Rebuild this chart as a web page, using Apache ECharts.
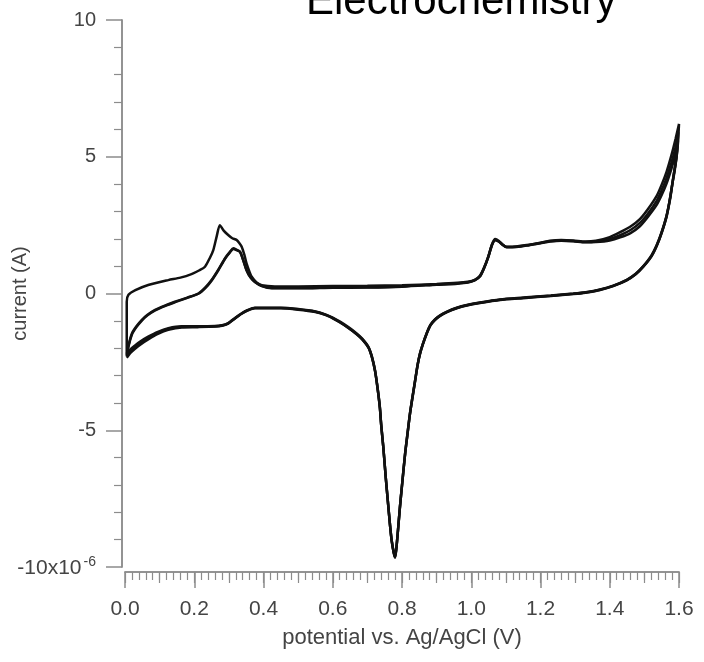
<!DOCTYPE html>
<html>
<head>
<meta charset="utf-8">
<script src="https://cdn.jsdelivr.net/npm/echarts@6/dist/echarts.min.js"></script>
<style>
html,body{margin:0;padding:0;background:#fff;}
#chart{width:704px;height:662px;}
</style>
</head>
<body>
<div id="chart"></div>
<script>
// Potential (V) vs current (in units of 1e-6 A).
const xTickLabels = ['0.0','0.2','0.4','0.6','0.8','1.0','1.2','1.4','1.6'];
const yTickLabels = ['-10','-5','0','5','10'];

const cycle1Anodic = [[0.005,-2.2],[0.005,-0.3],[0.01,-0.05],[0.03,0.12],[0.067,0.31],[0.125,0.49],[0.16,0.58],[0.192,0.71],[0.215,0.85],[0.231,0.98],[0.245,1.3],[0.255,1.59],[0.265,2.1],[0.274,2.5],[0.285,2.3],[0.298,2.14],[0.31,2.02],[0.322,1.96],[0.33,1.85],[0.337,1.71],[0.345,1.4],[0.351,1.1],[0.36,0.78],[0.366,0.61],[0.38,0.4],[0.395,0.3],[0.433,0.26],[0.5,0.26],[0.6,0.27],[0.7,0.28],[0.8,0.3],[0.9,0.35],[0.96,0.39],[0.99,0.43],[1.01,0.5],[1.025,0.65],[1.037,0.95],[1.049,1.35],[1.06,1.8],[1.069,1.99],[1.08,1.92],[1.09,1.8],[1.102,1.71],[1.13,1.72],[1.16,1.77],[1.2,1.86],[1.227,1.93],[1.26,1.96],[1.295,1.94],[1.33,1.9],[1.36,1.93],[1.4,2.06],[1.43,2.24],[1.46,2.45],[1.487,2.72],[1.51,3.08],[1.536,3.58],[1.55,3.98],[1.564,4.45],[1.578,5.05],[1.59,5.65],[1.6,6.2]];

const cycle1Cathodic = [[1.6,6.2],[1.597,5.5],[1.592,4.9],[1.584,4.3],[1.575,3.55],[1.564,2.85],[1.55,2.25],[1.536,1.78],[1.52,1.38],[1.497,1.0],[1.475,0.72],[1.449,0.5],[1.41,0.29],[1.372,0.15],[1.33,0.05],[1.295,0.0],[1.23,-0.07],[1.15,-0.15],[1.083,-0.22],[1.025,-0.33],[0.987,-0.42],[0.958,-0.52],[0.93,-0.66],[0.91,-0.8],[0.895,-0.95],[0.882,-1.15],[0.871,-1.46],[0.86,-1.85],[0.852,-2.19],[0.845,-2.6],[0.838,-3.16],[0.83,-3.8],[0.823,-4.38],[0.816,-5.1],[0.809,-5.84],[0.8,-7.0],[0.794,-7.8],[0.788,-8.7],[0.784,-9.26],[0.78,-9.62],[0.776,-9.45],[0.77,-9.0],[0.765,-8.4],[0.76,-7.7],[0.753,-6.7],[0.746,-5.6],[0.74,-4.8],[0.736,-4.14],[0.729,-3.4],[0.722,-2.8],[0.713,-2.3],[0.703,-1.95],[0.685,-1.65],[0.669,-1.46],[0.645,-1.23],[0.621,-1.03],[0.6,-0.88],[0.582,-0.78],[0.55,-0.66],[0.5,-0.57],[0.45,-0.52],[0.4,-0.52],[0.375,-0.52],[0.355,-0.6],[0.337,-0.72],[0.315,-0.92],[0.298,-1.08],[0.28,-1.16],[0.26,-1.19],[0.21,-1.2],[0.164,-1.2],[0.125,-1.27],[0.095,-1.4],[0.067,-1.58],[0.045,-1.75],[0.029,-1.9],[0.015,-2.05],[0.005,-2.25]];

const cycle2Anodic = [[0.005,-2.25],[0.01,-1.9],[0.02,-1.46],[0.033,-1.2],[0.048,-0.97],[0.065,-0.78],[0.087,-0.6],[0.115,-0.44],[0.144,-0.3],[0.18,-0.15],[0.212,0.0],[0.232,0.22],[0.25,0.49],[0.27,0.88],[0.289,1.29],[0.303,1.52],[0.313,1.65],[0.322,1.6],[0.332,1.53],[0.342,1.2],[0.351,0.86],[0.362,0.6],[0.375,0.43],[0.395,0.28],[0.424,0.2],[0.5,0.2],[0.6,0.22],[0.7,0.23],[0.8,0.26],[0.9,0.33],[0.96,0.37],[0.99,0.41],[1.01,0.49],[1.025,0.63],[1.037,0.93],[1.049,1.33],[1.06,1.78],[1.069,1.96],[1.08,1.9],[1.09,1.79],[1.102,1.7],[1.13,1.71],[1.16,1.76],[1.2,1.85],[1.227,1.91],[1.26,1.94],[1.295,1.92],[1.33,1.88],[1.36,1.9],[1.4,1.99],[1.43,2.13],[1.46,2.32],[1.487,2.58],[1.51,2.92],[1.536,3.4],[1.55,3.78],[1.564,4.22],[1.578,4.78],[1.59,5.35],[1.598,5.9]];

const cycle2Cathodic = [[1.598,5.9],[1.594,5.2],[1.588,4.6],[1.582,4.1],[1.575,3.5],[1.564,2.82],[1.55,2.23],[1.536,1.76],[1.52,1.36],[1.497,0.99],[1.475,0.71],[1.449,0.49],[1.41,0.28],[1.372,0.14],[1.33,0.04],[1.295,-0.01],[1.23,-0.08],[1.15,-0.16],[1.083,-0.23],[1.025,-0.34],[0.987,-0.43],[0.958,-0.53],[0.93,-0.67],[0.91,-0.81],[0.895,-0.96],[0.882,-1.16],[0.871,-1.47],[0.86,-1.86],[0.852,-2.2],[0.845,-2.62],[0.838,-3.18],[0.83,-3.82],[0.823,-4.4],[0.816,-5.12],[0.809,-5.86],[0.8,-7.02],[0.794,-7.82],[0.788,-8.72],[0.784,-9.28],[0.78,-9.64],[0.776,-9.47],[0.77,-9.02],[0.765,-8.42],[0.76,-7.72],[0.753,-6.72],[0.746,-5.62],[0.74,-4.82],[0.736,-4.16],[0.729,-3.42],[0.722,-2.82],[0.713,-2.32],[0.703,-1.97],[0.685,-1.67],[0.669,-1.48],[0.645,-1.25],[0.621,-1.05],[0.6,-0.9],[0.582,-0.79],[0.55,-0.67],[0.5,-0.58],[0.45,-0.53],[0.4,-0.53],[0.375,-0.53],[0.355,-0.61],[0.337,-0.73],[0.315,-0.93],[0.298,-1.09],[0.28,-1.17],[0.26,-1.2],[0.21,-1.21],[0.164,-1.22],[0.125,-1.3],[0.095,-1.44],[0.067,-1.63],[0.045,-1.81],[0.029,-1.96],[0.015,-2.12],[0.005,-2.3]];

const cycle3Anodic = [[0.005,-2.3],[0.01,-1.95],[0.02,-1.5],[0.033,-1.23],[0.048,-1.0],[0.065,-0.8],[0.087,-0.62],[0.115,-0.46],[0.144,-0.32],[0.18,-0.16],[0.212,-0.01],[0.232,0.2],[0.25,0.47],[0.27,0.86],[0.289,1.27],[0.303,1.5],[0.313,1.63],[0.322,1.59],[0.332,1.52],[0.342,1.19],[0.351,0.85],[0.362,0.59],[0.375,0.42],[0.395,0.27],[0.424,0.19],[0.5,0.19],[0.6,0.21],[0.7,0.22],[0.8,0.25],[0.9,0.32],[0.96,0.36],[0.99,0.4],[1.01,0.48],[1.025,0.62],[1.037,0.92],[1.049,1.32],[1.06,1.77],[1.069,1.95],[1.08,1.89],[1.09,1.78],[1.102,1.69],[1.13,1.7],[1.16,1.75],[1.2,1.84],[1.227,1.9],[1.26,1.93],[1.295,1.91],[1.33,1.87],[1.36,1.88],[1.4,1.94],[1.43,2.05],[1.46,2.21],[1.487,2.46],[1.51,2.8],[1.536,3.25],[1.55,3.6],[1.564,4.02],[1.578,4.56],[1.59,5.1],[1.597,5.6]];

const cycle3Cathodic = [[1.597,5.6],[1.593,5.0],[1.587,4.45],[1.58,3.95],[1.573,3.4],[1.564,2.8],[1.55,2.22],[1.536,1.75],[1.52,1.35],[1.497,0.98],[1.475,0.7],[1.449,0.48],[1.41,0.27],[1.372,0.13],[1.33,0.03],[1.295,-0.02],[1.23,-0.09],[1.15,-0.17],[1.083,-0.24],[1.025,-0.35],[0.987,-0.44],[0.958,-0.54],[0.93,-0.68],[0.91,-0.82],[0.895,-0.97],[0.882,-1.17],[0.871,-1.48],[0.86,-1.87],[0.852,-2.21],[0.845,-2.63],[0.838,-3.19],[0.83,-3.83],[0.823,-4.41],[0.816,-5.13],[0.809,-5.87],[0.8,-7.03],[0.794,-7.83],[0.788,-8.73],[0.784,-9.3],[0.78,-9.66],[0.776,-9.48],[0.77,-9.03],[0.765,-8.43],[0.76,-7.73],[0.753,-6.73],[0.746,-5.63],[0.74,-4.83],[0.736,-4.17],[0.729,-3.43],[0.722,-2.83],[0.713,-2.33],[0.703,-1.98],[0.685,-1.68],[0.669,-1.49],[0.645,-1.26],[0.621,-1.06],[0.6,-0.91],[0.582,-0.8],[0.55,-0.68],[0.5,-0.59],[0.45,-0.54],[0.4,-0.54],[0.375,-0.54],[0.355,-0.62],[0.337,-0.74],[0.315,-0.94],[0.298,-1.1],[0.28,-1.18],[0.26,-1.21],[0.21,-1.23],[0.164,-1.24],[0.125,-1.33],[0.095,-1.48],[0.067,-1.68],[0.045,-1.86],[0.029,-2.02],[0.015,-2.18],[0.005,-2.35]];

const cycles = [
  cycle1Anodic.concat(cycle1Cathodic),
  cycle2Anodic.concat(cycle2Cathodic),
  cycle3Anodic.concat(cycle3Cathodic)
];

const FONT = 'Liberation Sans, Arial, Helvetica, sans-serif';
const AXIS_COLOR = '#8c8c8c';
const LABEL_COLOR = '#444';

const chart = echarts.init(document.getElementById('chart'), null, {renderer: 'canvas'});
chart.setOption({
  animation: false,
  backgroundColor: '#fff',
  title: {
    text: 'Electrochemistry',
    left: 301,
    top: -24,
    textStyle: {fontFamily: FONT, fontSize: 42, fontWeight: 'normal', color: '#000'}
  },
  grid: {left: 125, right: 25, top: 20, bottom: 95, containLabel: false, outerBoundsMode: 'none'},
  xAxis: [
    {
      type: 'value', min: 0, max: 1.6, interval: 0.2, position: 'bottom', offset: 5,
      axisLine: {show: true, onZero: false, lineStyle: {color: AXIS_COLOR, width: 1.5}},
      axisTick: {show: true, length: 16, lineStyle: {color: AXIS_COLOR, width: 1.5}},
      minorTick: {show: true, splitNumber: 10, length: 8, lineStyle: {color: AXIS_COLOR, width: 1.2}},
      splitLine: {show: false},
      axisLabel: {
        margin: 27, fontFamily: FONT, fontSize: 21, color: LABEL_COLOR,
        formatter: function (v) { return xTickLabels[Math.round(v / 0.2)]; }
      },
      name: 'potential vs. Ag/AgCl (V)', nameLocation: 'middle', nameGap: 55, nameMoveOverlap: false,
      nameTextStyle: {fontFamily: FONT, fontSize: 22, color: LABEL_COLOR}
    },
    {
      type: 'value', min: 0, max: 1.6, interval: 0.1, position: 'bottom', offset: 5,
      axisLine: {show: false, onZero: false},
      axisTick: {show: true, length: 11, lineStyle: {color: AXIS_COLOR, width: 1.2}},
      axisLabel: {show: false}, splitLine: {show: false}
    },
    {
      type: 'value', min: -0.0087, max: 1.6, position: 'bottom', offset: 5,
      axisLine: {show: true, onZero: false, lineStyle: {color: AXIS_COLOR, width: 1.5}},
      axisTick: {show: false}, axisLabel: {show: false}, splitLine: {show: false}
    }
  ],
  yAxis: [
    {
      type: 'value', min: -10, max: 10, interval: 5, position: 'left', offset: 3,
      axisLine: {show: true, onZero: false, lineStyle: {color: AXIS_COLOR, width: 1.5}},
      axisTick: {show: true, length: 16, lineStyle: {color: AXIS_COLOR, width: 1.5}},
      minorTick: {show: true, splitNumber: 5, length: 8, lineStyle: {color: AXIS_COLOR, width: 1.2}},
      splitLine: {show: false},
      axisLabel: {
        margin: 26, fontFamily: FONT, fontSize: 20, color: LABEL_COLOR,
        formatter: function (v) {
          const t = yTickLabels[Math.round((v + 10) / 5)];
          return v === -10 ? '{b|' + t + 'x10}{sup|-6}' : t;
        },
        rich: {
          b: {fontFamily: FONT, fontSize: 21, color: LABEL_COLOR, verticalAlign: 'bottom'},
          sup: {fontFamily: FONT, fontSize: 14, color: LABEL_COLOR, verticalAlign: 'top', padding: [0, 0, 10, 2]}
        }
      },
      name: 'current (A)', nameLocation: 'middle', nameGap: 92, nameRotate: 90, nameMoveOverlap: false,
      nameTextStyle: {fontFamily: FONT, fontSize: 20, color: LABEL_COLOR}
    },
    {
      type: 'value', min: -10.18, max: 10, position: 'left', offset: 3,
      axisLine: {show: true, onZero: false, lineStyle: {color: AXIS_COLOR, width: 1.5}},
      axisTick: {show: false}, axisLabel: {show: false}, splitLine: {show: false}
    }
  ],
  series: cycles.map(function (d, i) {
    return {
      name: 'cycle ' + (i + 1), type: 'line', data: d,
      xAxisIndex: 0, yAxisIndex: 0,
      showSymbol: false, smooth: 0.25,
      lineStyle: {color: '#111', width: 2.5},
      z: 3 - i
    };
  })
});
</script>
</body>
</html>
